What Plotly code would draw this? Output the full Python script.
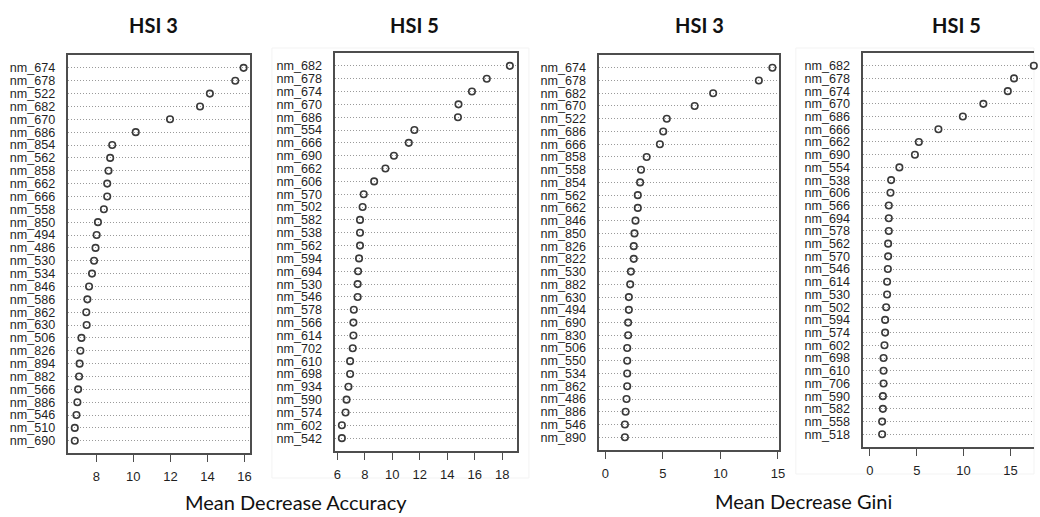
import plotly.graph_objects as go

# ---- data: variable importance per band (top 30), ordered top to bottom ----
acc_hsi3_bands = ["nm_674", "nm_678", "nm_522", "nm_682", "nm_670", "nm_686", "nm_854", "nm_562",
                  "nm_858", "nm_662", "nm_666", "nm_558", "nm_850", "nm_494", "nm_486", "nm_530",
                  "nm_534", "nm_846", "nm_586", "nm_862", "nm_630", "nm_506", "nm_826", "nm_894",
                  "nm_882", "nm_566", "nm_886", "nm_546", "nm_510", "nm_690"]
acc_hsi3_values = [15.95, 15.5, 14.13, 13.6, 11.98, 10.13, 8.86, 8.75,
                   8.66, 8.59, 8.59, 8.41, 8.09, 8.02, 7.96, 7.88,
                   7.77, 7.61, 7.52, 7.46, 7.48, 7.2, 7.14, 7.1,
                   7.07, 7.02, 6.98, 6.93, 6.84, 6.84]

acc_hsi5_bands = ["nm_682", "nm_678", "nm_674", "nm_670", "nm_686", "nm_554", "nm_666", "nm_690",
                  "nm_662", "nm_606", "nm_570", "nm_502", "nm_582", "nm_538", "nm_562", "nm_594",
                  "nm_694", "nm_530", "nm_546", "nm_578", "nm_566", "nm_614", "nm_702", "nm_610",
                  "nm_698", "nm_934", "nm_590", "nm_574", "nm_602", "nm_542"]
acc_hsi5_values = [18.56, 16.88, 15.8, 14.82, 14.78, 11.61, 11.2, 10.12,
                   9.5, 8.68, 7.92, 7.84, 7.65, 7.65, 7.65, 7.58,
                   7.51, 7.48, 7.48, 7.2, 7.17, 7.17, 7.12, 6.93,
                   6.93, 6.81, 6.67, 6.6, 6.33, 6.33]

gini_hsi3_bands = ["nm_674", "nm_678", "nm_682", "nm_670", "nm_522", "nm_686", "nm_666", "nm_858",
                   "nm_558", "nm_854", "nm_562", "nm_662", "nm_846", "nm_850", "nm_826", "nm_822",
                   "nm_530", "nm_882", "nm_630", "nm_494", "nm_690", "nm_830", "nm_506", "nm_550",
                   "nm_534", "nm_862", "nm_486", "nm_886", "nm_546", "nm_890"]
gini_hsi3_values = [14.52, 13.34, 9.37, 7.76, 5.34, 5.03, 4.74, 3.59,
                    3.1, 3.02, 2.82, 2.82, 2.62, 2.53, 2.47, 2.47,
                    2.22, 2.16, 2.04, 2.04, 1.98, 1.98, 1.9, 1.9,
                    1.9, 1.9, 1.84, 1.76, 1.7, 1.7]

gini_hsi5_bands = ["nm_682", "nm_678", "nm_674", "nm_670", "nm_686", "nm_666", "nm_662", "nm_690",
                   "nm_554", "nm_538", "nm_606", "nm_566", "nm_694", "nm_578", "nm_562", "nm_570",
                   "nm_546", "nm_614", "nm_530", "nm_502", "nm_594", "nm_574", "nm_602", "nm_698",
                   "nm_610", "nm_706", "nm_590", "nm_582", "nm_558", "nm_518"]
gini_hsi5_values = [17.5, 15.39, 14.72, 12.11, 9.92, 7.31, 5.22, 4.8,
                    3.14, 2.26, 2.19, 2.01, 2.01, 2.01, 1.94, 1.94,
                    1.91, 1.83, 1.83, 1.73, 1.62, 1.62, 1.55, 1.45,
                    1.45, 1.45, 1.38, 1.38, 1.3, 1.3]

panel_titles = ["HSI 3", "HSI 5", "HSI 3", "HSI 5"]
x_tick_values = [[8, 10, 12, 14, 16], [6, 8, 10, 12, 14, 16, 18], [0, 5, 10, 15], [0, 5, 10, 15]]

# ---- layout helpers (pixel geometry of the 1040 x 517 canvas) ----
W, H = 1040, 517


def px_x(v):
    return v / W


def px_y(v):
    return 1 - v / H


# box left, box right, box top, box bottom, x range, y range
panels = [
    (acc_hsi3_bands, acc_hsi3_values, 67, 250, 55, 453, [6.5, 16.3], [29.95, -1.0]),
    (acc_hsi5_bands, acc_hsi5_values, 336, 519, 53, 451, [5.86, 19.08], [30.0, -1.0]),
    (gini_hsi3_bands, gini_hsi3_values, 602, 783, 55, 450, [-0.52, 15.09], [30.0, -1.0]),
    (gini_hsi5_bands, gini_hsi5_values, 868, 1040, 53, 447, [-0.71, 17.52], [30.0, -1.0]),
]

AXIS_COLOR = "#4d4d4d"
TEXT_COLOR = "#1f1f1f"
LABEL_FONT = dict(family="Liberation Sans, Arial, sans-serif", size=12.6, color=TEXT_COLOR)
TICK_FONT = dict(family="Liberation Sans, Arial, sans-serif", size=13, color=TEXT_COLOR)

fig = go.Figure()
layout = dict(
    width=W, height=H,
    margin=dict(l=0, r=0, t=0, b=0),
    paper_bgcolor="white", plot_bgcolor="white",
    showlegend=False,
    shapes=[], annotations=[],
)

for i, (bands, vals, x0, x1, y0, y1, xr, yr) in enumerate(panels):
    n = "" if i == 0 else str(i + 1)
    fig.add_trace(go.Scatter(
        x=vals, y=bands, mode="markers",
        xaxis="x" + n, yaxis="y" + n,
        marker=dict(symbol="circle-open", size=6.5, color="#3a3a3a", line=dict(width=1.6)),
        cliponaxis=False, hoverinfo="x+y",
    ))
    last = i == 3
    layout["xaxis" + n] = dict(
        domain=[px_x(x0), px_x(x1)], anchor="y" + n, range=xr,
        tickvals=x_tick_values[i], ticks="outside", ticklen=7, tickwidth=1.4, tickcolor=AXIS_COLOR,
        ticklabelstandoff=4, tickfont=TICK_FONT,
        showline=True, linecolor=AXIS_COLOR, linewidth=1.6, mirror=True,
        showgrid=False, zeroline=False, fixedrange=True,
    )
    layout["yaxis" + n] = dict(
        domain=[px_y(y1), px_y(y0)], anchor="x" + n, range=yr,
        type="category", categoryorder="array", categoryarray=bands,
        tickmode="array", tickvals=bands, ticktext=bands,
        ticks="", ticklabelstandoff=9, tickfont=LABEL_FONT,
        showline=True, linecolor=AXIS_COLOR, linewidth=1.6, mirror=not last,
        showgrid=True, gridcolor="#9a9a9a", gridwidth=1, griddash="1px,2px",
        zeroline=False, fixedrange=True,
    )

# panel headings
for cx, title in zip([153, 416, 703, 962], panel_titles):
    layout["annotations"].append(dict(
        x=px_x(cx), y=px_y(25), xref="paper", yref="paper", text=title, showarrow=False,
        xanchor="center", yanchor="middle",
        font=dict(family="Lato, Open Sans, sans-serif", size=20, color="#111111", weight="bold"),
    ))

# measure captions under each pair of panels
for cx, cy, caption in [(296, 502, "Mean Decrease Accuracy"), (808, 501, "Mean Decrease Gini")]:
    layout["annotations"].append(dict(
        x=px_x(cx), y=px_y(cy), xref="paper", yref="paper", text=caption, showarrow=False,
        xanchor="center", yanchor="middle",
        font=dict(family="Lato, Open Sans, sans-serif", size=20, color="#111111"),
    ))

# faint frames around the second and fourth panel blocks
for fx0, fx1, fy0, fy1 in [(272, 531, 48, 478), (800, 1040, 48, 474)]:
    layout["shapes"].append(dict(
        type="rect", xref="paper", yref="paper",
        x0=px_x(fx0), x1=px_x(fx1), y0=px_y(fy1), y1=px_y(fy0),
        line=dict(color="#f3f3f3", width=1), fillcolor="rgba(0,0,0,0)", layer="below",
    ))

fig.update_layout(**layout)
fig.write_html("out.html")
